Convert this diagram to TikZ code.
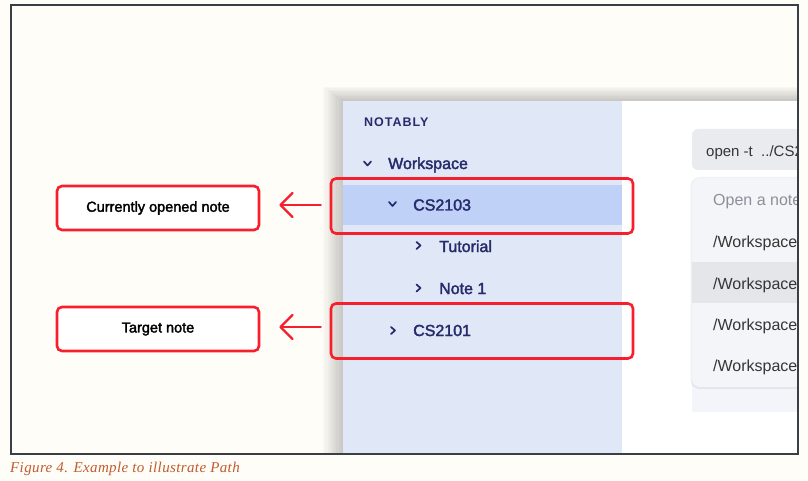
\documentclass[tikz,border=0pt]{standalone}
\usepackage{fontspec}
\setmainfont{Liberation Sans}
\newfontfamily\uimed[FakeBold=2.2]{Liberation Sans}
\newfontfamily\uicaps[LetterSpace=8]{Liberation Sans Bold}
\newfontfamily\capfont[LetterSpace=2.5]{Liberation Serif}
\usetikzlibrary{arrows.meta}
\definecolor{bgc}{HTML}{FEFDF8}
\definecolor{framec}{HTML}{3A3F45}
\definecolor{sidec}{HTML}{E0E7F6}
\definecolor{hlc}{HTML}{BFD1F6}
\definecolor{navy}{HTML}{262B6B}
\definecolor{redc}{HTML}{F71E2D}
\definecolor{inputc}{HTML}{E9EBEE}
\definecolor{dropc}{HTML}{F4F5F8}
\definecolor{rowc}{HTML}{E4E6EA}
\definecolor{panelc}{HTML}{F3F5FA}
\definecolor{captc}{HTML}{C25B2F}
\definecolor{itemc}{HTML}{353535}
\definecolor{hintc}{HTML}{8A8F99}
\tikzset{
  redbox/.style={draw=redc, line width=2.6pt, rounded corners=5pt, minimum width=302pt, minimum height=55pt, inner sep=0pt},
  labbox/.style={draw=redc, line width=2.6pt, rounded corners=5pt, fill=white, minimum width=202pt, minimum height=44pt, inner sep=0pt, font=\uimed\fontsize{14.5pt}{16pt}\selectfont, text=black},
  arr/.style={draw=redc, line width=2.4pt, line cap=round, -{Straight Barb[length=12pt,width=24pt,line cap=round,line join=round]}, shorten <=9pt, shorten >=19pt},
  tree/.style={anchor=base west, inner sep=0pt, text=navy, font=\uimed\fontsize{16pt}{18pt}\selectfont},
  item/.style={anchor=base west, inner sep=0pt, text=itemc, font=\fontsize{16pt}{18pt}\selectfont},
  chev/.style={draw=navy, line width=1.7pt, line cap=round, line join=round}
}
\begin{document}
\begin{tikzpicture}[x=1pt,y=-1pt]
\useasboundingbox (0,0) rectangle (808,481);
\fill[bgc] (0,0) rectangle (808,481);
\begin{scope}
\clip (11,5.5) rectangle (798,454);
% shadow of the screenshot
\foreach \i in {1,...,9}{
  \fill[black, opacity=0.025] (343-2.2*\i,101-1.6*\i) rectangle (820,470);
}
\fill[sidec] (343,101) rectangle (622,460);
\fill[white] (622,101) rectangle (820,460);
\fill[hlc] (343,185) rectangle (622,225);
% sidebar tree
\node[anchor=base west, inner sep=0pt, text=navy, font=\uicaps\fontsize{12.5pt}{14pt}\selectfont] (brand) at (364,127) {NOTABLY};
\draw[chev] (364,161.5) -- (367.5,165.5) -- (371,161.5);
\node[tree] (ws) at (388,169) {Workspace};
\draw[chev] (389,202) -- (392.5,206) -- (396,202);
\node[tree] (cs3) at (413,210.5) {CS2103};
\draw[chev] (416.5,242) -- (420.5,245.5) -- (416.5,249);
\node[tree] (tut) at (439,252) {Tutorial};
\draw[chev] (416.5,284.5) -- (420.5,288) -- (416.5,291.5);
\node[tree] (n1) at (439,294) {Note 1};
\draw[chev] (391,327) -- (395,330.5) -- (391,334);
\node[tree] (cs1) at (413,336) {CS2101};
% right panel
\fill[inputc, rounded corners=6pt] (692,129) rectangle (830,170);
\node[anchor=base west, inner sep=0pt, text=itemc, font=\fontsize{15pt}{17pt}\selectfont] (cmd) at (706,157) {open -t\ \ ../CS2};
\fill[panelc] (692,380) rectangle (830,412);
\fill[black, opacity=0.06, rounded corners=9pt] (690.5,177) rectangle (830,389);
\fill[dropc, rounded corners=8pt] (692,178) rectangle (830,387);
\fill[rowc] (692,262) rectangle (830,303);
\node[item, text=hintc] (hint) at (713,206) {Open a note};
\node[item] (w1) at (713,247) {/Workspace/};
\node[item] (w2) at (713,289) {/Workspace};
\node[item] (w3) at (713,330) {/Workspace/};
\node[item] (w4) at (713,371) {/Workspace};
\end{scope}
% highlight boxes
\node[redbox] (hl1) at (482,206) {};
\node[redbox] (hl2) at (482,331) {};
% labels
\node[labbox] (lab1) at (158,208) {Currently opened note};
\node[labbox] (lab2) at (158,329) {Target note};
\draw[arr] ([yshift=1pt]hl1.west) -- ([yshift=1pt]hl1.west -| lab1.east);
\draw[arr] ([yshift=4pt]hl2.west) -- ([yshift=4pt]hl2.west -| lab2.east);
% frame
\draw[framec, line width=2pt] (11,5.5) rectangle (798,454);
% caption
\node[anchor=base west, inner sep=0pt, text=captc, font=\capfont\itshape\fontsize{15pt}{17pt}\selectfont] (cap) at (10,472) {Figure 4. Example to illustrate Path};
\end{tikzpicture}
\end{document}
